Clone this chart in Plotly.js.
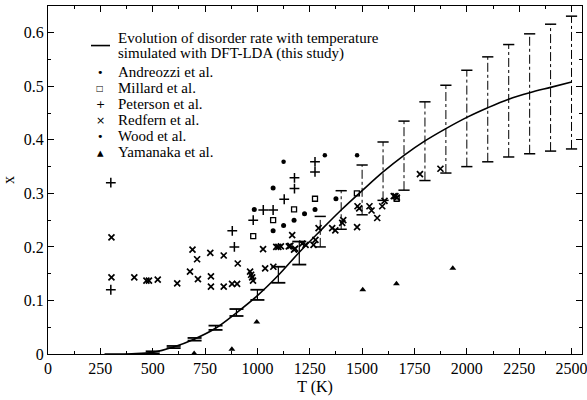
<!DOCTYPE html>
<html>
<head>
<meta charset="utf-8">
<script src="https://cdn.plot.ly/plotly-3.0.1.min.js"></script>
<style>html,body{margin:0;padding:0;background:#fff;}#chart{width:587px;height:400px;}</style>
</head>
<body>
<div id="chart"></div>
<script>
// DFT-LDA simulated curve
const curveT = [270, 300, 400, 500, 600, 700, 800, 900, 1000, 1100, 1200, 1300, 1400, 1500, 1600, 1700, 1800, 1900, 2000, 2100, 2200, 2300, 2400, 2500];
const curveX = [0, 0, 0.0005, 0.003, 0.013, 0.028, 0.048, 0.077, 0.109, 0.147, 0.19, 0.23, 0.269, 0.305, 0.34, 0.371, 0.398, 0.421, 0.442, 0.46, 0.476, 0.488, 0.498, 0.508];

// error bars (solid, low T)
const errLowT  = [500, 600, 700, 800, 900, 1000, 1100, 1200];
const errLowLo = [0.001, 0.011, 0.025, 0.045, 0.071, 0.101, 0.133, 0.167];
const errLowHi = [0.005, 0.015, 0.030, 0.053, 0.084, 0.120, 0.163, 0.210];

// error bars (dash-dot, high T)
const errHighT  = [1300, 1400, 1500, 1600, 1700, 1800, 1900, 2000, 2100, 2200, 2300, 2400, 2500];
const errHighLo = [0.200, 0.233, 0.260, 0.287, 0.306, 0.324, 0.338, 0.350, 0.359, 0.368, 0.374, 0.379, 0.383];
const errHighHi = [0.257, 0.305, 0.353, 0.396, 0.435, 0.471, 0.502, 0.530, 0.555, 0.578, 0.598, 0.616, 0.631];

// experimental data
const andreozziT = [985, 1075, 1075, 1125, 1175, 1225, 1275, 1375];
const andreozziX = [0.27, 0.31, 0.23, 0.24, 0.25, 0.262, 0.27, 0.29];

const millardT = [980, 1075, 1175, 1275, 1475, 1665];
const millardX = [0.22, 0.25, 0.27, 0.29, 0.30, 0.29];

const petersonT = [300, 300, 880, 890, 980, 1028, 1075, 1128, 1177, 1177, 1275, 1275];
const petersonX = [0.32, 0.12, 0.23, 0.20, 0.25, 0.269, 0.269, 0.289, 0.309, 0.329, 0.34, 0.359];

const redfernT = [303, 303, 412, 470, 482, 524, 617, 678, 690, 712, 716, 775, 778, 778, 839, 839, 879, 903, 906, 965, 970, 975, 979, 1027, 1037, 1076, 1090, 1100, 1112, 1150, 1157, 1166, 1175, 1180, 1214, 1230, 1268, 1277, 1292, 1357, 1372, 1405, 1410, 1476, 1478, 1486, 1535, 1545, 1572, 1596, 1607, 1651, 1659, 1666, 1776, 1874];
const redfernX = [0.218, 0.143, 0.143, 0.137, 0.137, 0.139, 0.132, 0.154, 0.195, 0.177, 0.140, 0.189, 0.145, 0.126, 0.184, 0.126, 0.131, 0.131, 0.169, 0.154, 0.148, 0.143, 0.137, 0.196, 0.160, 0.163, 0.200, 0.200, 0.201, 0.201, 0.202, 0.222, 0.195, 0.197, 0.206, 0.204, 0.204, 0.213, 0.235, 0.235, 0.231, 0.245, 0.250, 0.237, 0.276, 0.272, 0.276, 0.268, 0.254, 0.276, 0.286, 0.295, 0.295, 0.292, 0.336, 0.346];

const woodT = [1125, 1322, 1476];
const woodX = [0.359, 0.371, 0.371];

const yamanakaT = [698, 878, 997, 1503, 1664, 1933];
const yamanakaX = [0.001, 0.009, 0.06, 0.12, 0.131, 0.16];

const xTickVals = [0, 250, 500, 750, 1000, 1250, 1500, 1750, 2000, 2250, 2500];
const yTickVals = [0, 0.1, 0.2, 0.3, 0.4, 0.5, 0.6];

// legend entries (text, key glyph)
const legendLabels = [
  'Evolution of disorder rate with temperature',
  'simulated with DFT-LDA (this study)',
  'Andreozzi et al.',
  'Millard et al.',
  'Peterson et al.',
  'Redfern et al.',
  'Wood et al.',
  'Yamanaka et al.'
];
const legendKeys = ['', '', '•', '□', '+', '×', '•', '▴'];

function segs(T, lo, hi) {
  const xs = [], ys = [];
  for (let i = 0; i < T.length; i++) {
    xs.push(T[i], T[i], null);
    ys.push(lo[i], hi[i], null);
  }
  return {xs, ys};
}
const lowS = segs(errLowT, errLowLo, errLowHi);
const highS = segs(errHighT, errHighLo, errHighHi);

const FONT = 'Liberation Serif, Times New Roman, serif';

const traces = [
  {x: curveT, y: curveX, mode: 'lines', line: {color: '#000', width: 1.6, shape: 'spline'},
   name: legendLabels[0] + ' ' + legendLabels[1]},
  {x: lowS.xs, y: lowS.ys, mode: 'lines+markers', hoverinfo: 'skip', name: 'error (low T)',
   line: {color: '#000', width: 1.2},
   marker: {symbol: 'line-ew-open', size: 10, color: '#000', line: {color: '#000', width: 1.8}}},
  {x: highS.xs, y: highS.ys, mode: 'lines+markers', hoverinfo: 'skip', name: 'error (high T)',
   line: {color: '#000', width: 1, dash: 'dashdot'},
   marker: {symbol: 'line-ew-open', size: 8, color: '#000', line: {color: '#000', width: 1.5}}},
  {x: andreozziT, y: andreozziX, mode: 'markers', name: legendLabels[2],
   marker: {symbol: 'circle', size: 5, color: '#000'}},
  {x: millardT, y: millardX, mode: 'markers', name: legendLabels[3],
   marker: {symbol: 'square-open', size: 5, color: '#000', line: {width: 1.3, color: '#000'}}},
  {x: petersonT, y: petersonX, mode: 'markers', name: legendLabels[4],
   marker: {symbol: 'cross-thin-open', size: 7, color: '#000', line: {width: 1.5, color: '#000'}}},
  {x: redfernT, y: redfernX, mode: 'markers', name: legendLabels[5],
   marker: {symbol: 'x-thin-open', size: 6, color: '#000', line: {width: 1.7, color: '#000'}}},
  {x: woodT, y: woodX, mode: 'markers', name: legendLabels[6],
   marker: {symbol: 'circle', size: 4.5, color: '#000'}},
  {x: yamanakaT, y: yamanakaX, mode: 'markers', name: legendLabels[7],
   marker: {symbol: 'triangle-up', size: 6, color: '#000'}}
];

// legend layout (pixel positions converted to paper fractions)
const PL = 48, PW = 534, PB = 354, PH = 347.5;
const toPX = px => (px - PL) / PW;
const toPY = py => (PB - py) / PH;
const legendRowY = [38, 54, 72.5, 88.5, 104.5, 120.5, 136.5, 152.5];

const annotations = [];
legendLabels.forEach((lab, i) => {
  annotations.push({xref: 'paper', yref: 'paper', x: toPX(117), y: toPY(legendRowY[i]),
    xanchor: 'left', yanchor: 'middle', showarrow: false, text: lab, borderpad: 0,
    font: {family: FONT, size: 15, color: '#000'}});
  if (legendKeys[i]) {
    annotations.push({xref: 'paper', yref: 'paper', x: toPX(100), y: toPY(legendRowY[i]),
      xanchor: 'center', yanchor: 'middle', showarrow: false, text: legendKeys[i], borderpad: 0,
      font: {family: 'DejaVu Sans, sans-serif', size: legendKeys[i] === '▴' ? 13 : (legendKeys[i] === '□' ? 8 : 11), color: '#000'}});
  }
});

const shapes = [{type: 'line', xref: 'paper', yref: 'paper',
  x0: toPX(91), x1: toPX(110), y0: toPY(46), y1: toPY(46), line: {color: '#000', width: 1.6}}];

const axisCommon = {
  showgrid: false, zeroline: false, showline: true, linecolor: '#000', linewidth: 1,
  mirror: 'allticks', ticks: 'inside', ticklen: 6, tickwidth: 1, tickcolor: '#000',
  ticklabeloverflow: 'allow',
  tickfont: {family: FONT, size: 16, color: '#000'}
};

const layout = {
  width: 587, height: 400,
  margin: {l: 48, r: 5, t: 6, b: 46},
  paper_bgcolor: '#fff', plot_bgcolor: '#fff',
  font: {family: FONT, size: 15, color: '#000'},
  showlegend: false,
  annotations: annotations,
  shapes: shapes,
  xaxis: Object.assign({}, axisCommon, {
    range: [0, 2550], tickvals: xTickVals, ticktext: xTickVals.map(String),
    minor: {dtick: 125, tick0: 0, ticks: 'inside', ticklen: 3, tickcolor: '#000'},
    title: {text: 'T (K)', font: {family: FONT, size: 16, color: '#000'}, standoff: 4}
  }),
  yaxis: Object.assign({}, axisCommon, {
    range: [0, 0.65], tickvals: yTickVals, ticktext: yTickVals.map(String),
    minor: {dtick: 0.05, tick0: 0, ticks: 'inside', ticklen: 3, tickcolor: '#000'},
    title: {text: 'x', font: {family: FONT, size: 16, color: '#000'}, standoff: 12}
  })
};

Plotly.newPlot('chart', traces, layout, {displayModeBar: false, staticPlot: true});
</script>
</body>
</html>
